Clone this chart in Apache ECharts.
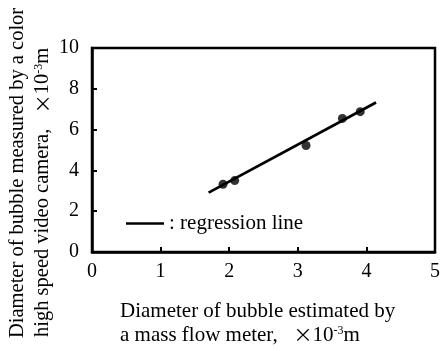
<!DOCTYPE html>
<html lang="en">
<head>
    <meta charset="UTF-8">
    <title>bubble diameter</title>
    <script src="https://cdn.jsdelivr.net/npm/echarts@6/dist/echarts.min.js"></script>
    <style>
        html, body { margin: 0; padding: 0; background: #fff; }
        #chart1 { width: 443px; height: 351px; }
    </style>
</head>
<body>
<div id="chart1"></div>
<script>
    // measured points: estimated diameter (mass flow meter) vs camera diameter, x10^-3 m
    var estDiameter = [1.91, 2.08, 3.12, 3.65, 3.91];
    var camDiameter = [3.32, 3.50, 5.22, 6.55, 6.88];
    // regression line ends
    var regX = [1.70, 4.14];
    var regY = [2.91, 7.33];
    var xTicks = [0, 1, 2, 3, 4, 5];
    var yTicks = [0, 2, 4, 6, 8, 10];

    var serif = '"Liberation Serif", "Times New Roman", serif';

    var pts = estDiameter.map(function (v, i) { return [v, camDiameter[i]]; });
    var reg = regX.map(function (v, i) { return [v, regY[i]]; });

    // superscript and the wide multiplication sign
    var unitRich = {
        sup: { fontFamily: serif, fontSize: 12, verticalAlign: 'top', fill: '#000', padding: [0, 0, 8, 0] },
        times: { fontFamily: '"Noto Sans CJK JP", sans-serif', fontSize: 19, fill: '#000' }
    };

    var myChart1 = echarts.init(document.getElementById('chart1'));
    myChart1.setOption({
        backgroundColor: '#fff',
        animation: false,
        grid: {
            left: 92, right: 7, top: 48, bottom: 99,
            show: true, borderColor: '#000', borderWidth: 2.5
        },
        legend: {
            left: 121, top: 208,
            icon: 'rect', itemWidth: 38, itemHeight: 2.5,
            data: ['regression line'],
            formatter: function (name) { return ': ' + name; },
            textStyle: { fontFamily: serif, fontSize: 21, color: '#000' }
        },
        xAxis: {
            type: 'value', min: xTicks[0], max: xTicks[xTicks.length - 1], interval: 1,
            axisLine: { lineStyle: { color: '#000', width: 2.5 } },
            axisTick: { inside: true, length: 5, lineStyle: { color: '#000', width: 2 } },
            splitLine: { show: false },
            axisLabel: { fontFamily: serif, fontSize: 20, color: '#000', margin: 10 }
        },
        yAxis: {
            type: 'value', min: yTicks[0], max: yTicks[yTicks.length - 1], interval: 2,
            axisLine: { lineStyle: { color: '#000', width: 2.5 } },
            axisTick: { inside: true, length: 5, lineStyle: { color: '#000', width: 2 } },
            splitLine: { show: false },
            axisLabel: { fontFamily: serif, fontSize: 20, color: '#000', margin: 13 }
        },
        series: [{
            name: 'measured',
            type: 'scatter',
            symbolSize: 9,
            itemStyle: { color: '#000' },
            data: pts
        }, {
            name: 'regression line',
            type: 'line',
            showSymbol: false,
            lineStyle: { color: '#000', width: 2.8 },
            itemStyle: { color: '#000' },
            data: reg
        }],
        graphic: [{
            type: 'text', x: 120, y: 311,
            style: {
                text: 'Diameter of bubble estimated by',
                font: '21px ' + serif, fill: '#000',
                textAlign: 'left', textVerticalAlign: 'middle'
            }
        }, {
            type: 'text', x: 120, y: 335,
            style: {
                text: 'a mass flow meter,   {times|\u00d7}10{sup|-3}m',
                font: '21px ' + serif, fill: '#000', rich: unitRich,
                textAlign: 'left', textVerticalAlign: 'middle'
            }
        }, {
            type: 'text', x: 18, y: 338, rotation: Math.PI / 2,
            style: {
                text: 'Diameter of bubble measured by a color',
                font: '20.5px ' + serif, fill: '#000',
                textAlign: 'left', textVerticalAlign: 'middle'
            }
        }, {
            type: 'text', x: 43, y: 337, rotation: Math.PI / 2,
            style: {
                text: 'high speed video camera,   {times|\u00d7}10{sup|-3}m',
                font: '20.5px ' + serif, fill: '#000', rich: unitRich,
                textAlign: 'left', textVerticalAlign: 'middle'
            }
        }]
    });
</script>
</body>
</html>
